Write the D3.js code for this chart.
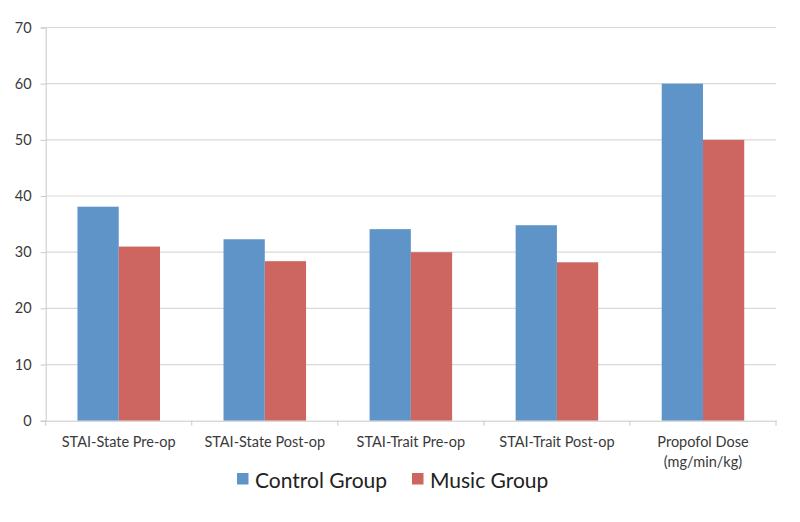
<!DOCTYPE html>
<html><head><meta charset="utf-8">
<script src="https://cdn.jsdelivr.net/npm/d3@7"></script>
<style>body{margin:0;background:#fff}svg{display:block}</style>
</head><body>
<script>
const categories = ["STAI-State Pre-op","STAI-State Post-op","STAI-Trait Pre-op","STAI-Trait Post-op","Propofol Dose\n(mg/min/kg)"];
const seriesNames = ["Control Group","Music Group"];
const controlValues = [38.1, 32.3, 34.1, 34.8, 60];
const musicValues = [31.0, 28.4, 30.0, 28.2, 50];
const yTicks = [0,10,20,30,40,50,60,70];
const colors = ["#5f94c9","#cd6661"];

const W=800,H=522;
const m={l:45.7,r:24,t:27.5,b:101.3};
const svg=d3.select("body").append("svg").attr("width",W).attr("height",H);
const font="Lato, 'Open Sans', sans-serif";
const x=d3.scaleBand().domain(categories).range([m.l,W-m.r]).padding(0);
const y=d3.scaleLinear().domain([0,70]).range([H-m.b,m.t]);
const x1=d3.scaleBand().domain(seriesNames).range([0,x.bandwidth()]).paddingOuter(0.77).paddingInner(0);

// gridlines
svg.append("g").selectAll("line").data(yTicks.filter(d=>d>0)).join("line")
 .attr("x1",m.l).attr("x2",W-m.r).attr("y1",d=>y(d)).attr("y2",d=>y(d))
 .attr("stroke","#d9d9d9").attr("stroke-width",1.2);

// y axis
const ya=svg.append("g").attr("transform",`translate(${m.l},0)`)
 .call(d3.axisLeft(y).tickValues(yTicks).tickSize(5).tickPadding(9));
ya.select(".domain").attr("stroke","#c8c8c8");
ya.selectAll(".tick line").attr("stroke","#c8c8c8");
ya.selectAll("text").attr("font-family",font).attr("font-size",14.5).attr("fill","#3a3a3a");

// bars
const data=categories.map((c,i)=>({c,vals:[controlValues[i],musicValues[i]]}));
const g=svg.append("g").selectAll("g").data(data).join("g").attr("transform",d=>`translate(${x(d.c)},0)`);
g.selectAll("rect").data(d=>d.vals.map((v,j)=>({k:seriesNames[j],v,j}))).join("rect")
 .attr("x",d=>x1(d.k)).attr("width",x1.bandwidth())
 .attr("y",d=>y(d.v)).attr("height",d=>y(0)-y(d.v))
 .attr("fill",d=>colors[d.j]);

// x axis
const xa=svg.append("g").attr("transform",`translate(0,${y(0)})`)
 .call(d3.axisBottom(x).tickSize(0).tickFormat(""));
xa.select(".domain").attr("stroke","#c8c8c8");
const xt=svg.append("g");
[...categories.map(c=>x(c)), W-m.r].forEach(v=>{
  xt.append("line").attr("x1",v).attr("x2",v).attr("y1",y(0)).attr("y2",y(0)+5).attr("stroke","#c8c8c8");
});
categories.forEach(c=>{
  const lines=c.split("\n");
  const t=svg.append("text").attr("x",x(c)+x.bandwidth()/2).attr("y",y(0)+26)
   .attr("text-anchor","middle").attr("font-family",font).attr("font-size",14.5).attr("fill","#3a3a3a");
  lines.forEach((l,i)=>t.append("tspan").attr("x",x(c)+x.bandwidth()/2).attr("dy",i?20.5:0).text(l));
});

// legend
const leg=[{n:seriesNames[0],sx:237,tx:255},{n:seriesNames[1],sx:412,tx:430}];
leg.forEach((d,i)=>{
  svg.append("rect").attr("x",d.sx).attr("y",473).attr("width",11.5).attr("height",11.5).attr("fill",colors[i]);
  svg.append("text").attr("x",d.tx).attr("y",488).attr("font-family",font).attr("font-size",21).attr("fill","#222").text(d.n);
});
</script>
</body></html>
